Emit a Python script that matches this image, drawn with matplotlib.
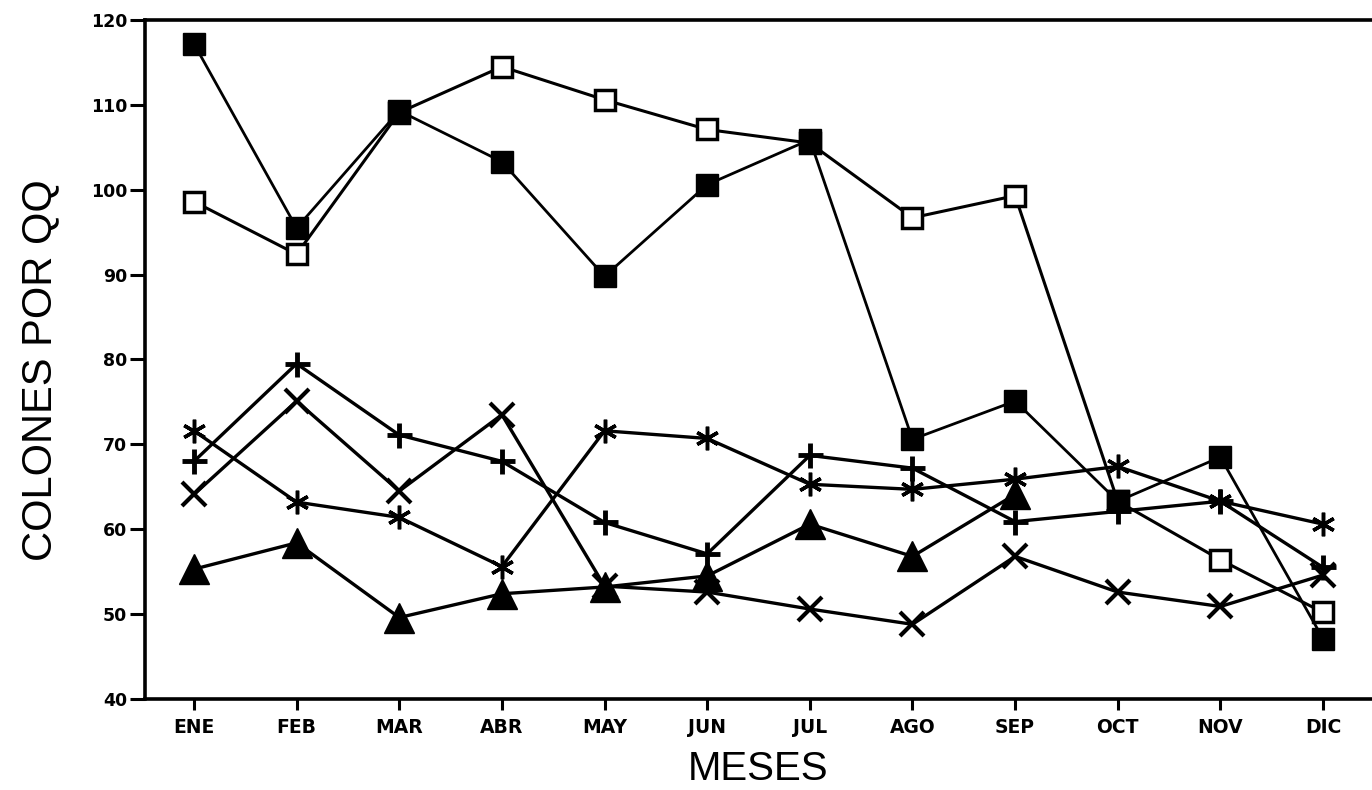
import numpy as np
import matplotlib
matplotlib.use("Agg")
import matplotlib.pyplot as plt

meses = ['ENE', 'FEB', 'MAR', 'ABR', 'MAY', 'JUN', 'JUL', 'AGO', 'SEP', 'OCT', 'NOV', 'DIC']
cuadro_lleno = [117.2, 95.5, 109.3, 103.3, 89.8, 100.6, 105.9, 70.6, 75.1, 63.3, 68.5, 47.1]
cuadro_vacio = [98.6, 92.4, 109.1, 114.5, 110.6, 107.1, 105.5, 96.7, 99.3, 63.3, 56.4, 50.2]
cruz = [68.0, 79.5, 71.1, 68.0, 60.8, 57.1, 68.7, 67.2, 60.9, 62.1, 63.3, 55.5]
asterisco = [71.6, 63.2, 61.4, 55.6, 71.6, 70.7, 65.3, 64.7, 65.9, 67.4, 63.3, 60.6]
equis = [64.1, 75.1, 64.5, 73.5, 53.3, 52.6, 50.6, 48.8, 56.8, 52.6, 50.9, 54.6]
triangulo = [55.3, 58.4, 49.6, 52.4, 53.2, 54.5, 60.6, 56.8, 64.1, np.nan, np.nan, np.nan]
yticks = [40, 50, 60, 70, 80, 90, 100, 110, 120]

fig = plt.figure(figsize=(13.72, 7.90), dpi=100)
ax = fig.add_axes([145/1372, 91/790, 1 - 145/1372, (699-20)/790])

x = np.arange(len(meses))
k = 'black'
ax.plot(x, triangulo, color=k, lw=2.4, marker='^', ms=22, mfc=k, mec=k, zorder=3)
ax.plot(x, equis, color=k, lw=2.4, marker='x', ms=17, mew=3, mec=k, zorder=3)
ax.plot(x, asterisco, color=k, lw=2.4, marker=(6, 2, 0), ms=17, mew=2.5, mec=k, zorder=3)
ax.plot(x, cruz, color=k, lw=2.4, marker='+', ms=18, mew=3.5, mec=k, zorder=3)
ax.plot(x, cuadro_vacio, color=k, lw=2.2, marker='s', ms=14, mfc='white', mec=k, mew=2.5, zorder=4)
ax.plot(x, cuadro_lleno, color=k, lw=2.0, marker='s', ms=15.5, mfc=k, mec=k, zorder=5)

ax.set_xlim(-0.477, 11.477)
ax.set_ylim(40, 120)
ax.set_xticks(x)
ax.set_xticklabels(meses, fontfamily='DejaVu Sans', fontweight='bold', fontsize=13.5)
ax.set_yticks(yticks)
ax.set_yticklabels([str(v) for v in yticks], fontfamily='DejaVu Sans', fontweight='bold', fontsize=12.5)
ax.tick_params(axis='y', direction='out', length=11, width=2.2, pad=2)
ax.tick_params(axis='x', direction='out', length=8, width=2.2, pad=6)

ax.spines['right'].set_visible(False)
for s in ['left', 'bottom', 'top']:
    ax.spines[s].set_linewidth(2.6)

ax.set_xlabel('MESES', fontfamily='Liberation Sans', fontsize=29, labelpad=9)
ax.set_ylabel('COLONES POR QQ', fontfamily='Liberation Sans', fontsize=30)
ax.yaxis.set_label_coords(-0.069, 0.485)

fig.savefig('out.png', dpi=100)
